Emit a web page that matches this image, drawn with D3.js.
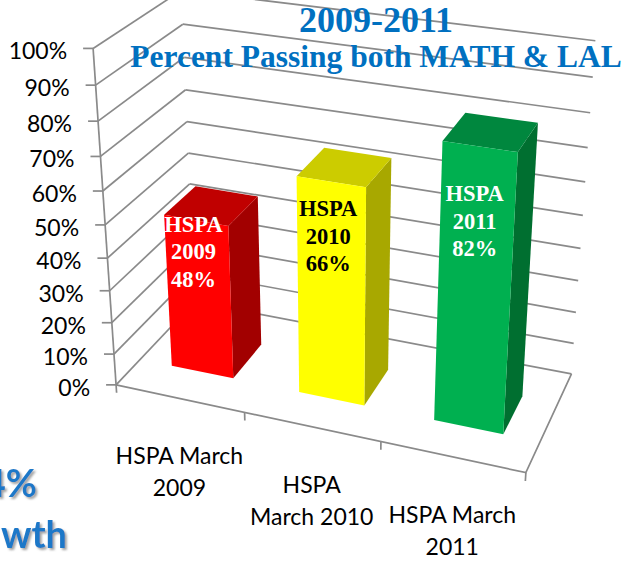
<!DOCTYPE html>
<html>
<head>
<meta charset="utf-8">
<script src="https://cdnjs.cloudflare.com/ajax/libs/d3/7.8.5/d3.min.js"></script>
<style>
  html, body { margin: 0; padding: 0; background: #fff; }
  svg { display: block; }
</style>
</head>
<body>
<div id="chart"></div>
<script>

// ---------------- data ----------------
var categories = ["HSPA March 2009", "HSPA March 2010", "HSPA March 2011"];
var categoryLines = [["HSPA March", "2009"], ["HSPA", "March 2010"], ["HSPA March", "2011"]];
var passRates = [0.48, 0.66, 0.82];
var yTickValues = [0, 0.1, 0.2, 0.3, 0.4, 0.5, 0.6, 0.7, 0.8, 0.9, 1];
var titleLines = ["2009-2011", "Percent Passing both MATH & LAL"];
var sideNote = ["4%", "wth"];

// ---------------- look ----------------
var faceColors = [
  { front: "#ff0000", top: "#c00000", side: "#a20000", text: "#ffffff" },
  { front: "#ffff00", top: "#cccc00", side: "#a8a800", text: "#000000" },
  { front: "#00b050", top: "#00873e", side: "#006f30", text: "#ffffff" }
];
var labelDrop = [0.035, 0.10, 0.15];   // how far below the column top the text box sits
var gridColor = "#8a8a8a";

// camera for the 3d box (world units: width x height x depth)
var box = { width: 118, height: 100, depth: 51 };
var cam = { f: 1577, cx: 338, cy: 174, yaw: 20.8, pitch: 24.5, eye: [-62.2, -59.1, 442] };

function project(x, y, z) {
  var a = cam.yaw * Math.PI / 180, b = cam.pitch * Math.PI / 180;
  var xr = x * Math.cos(a) + z * Math.sin(a);
  var zr = z * Math.cos(a) - x * Math.sin(a);
  var yc = y * Math.cos(b) + zr * Math.sin(b);
  var zc = zr * Math.cos(b) - y * Math.sin(b);
  var px = xr + cam.eye[0], py = yc + cam.eye[1], pz = zc + cam.eye[2];
  return [cam.cx + cam.f * px / pz, cam.cy - cam.f * py / pz];
}

// ---------------- scales ----------------
var xScale = d3.scaleBand().domain(categories).range([0, box.width]).paddingInner(0.51).paddingOuter(0.255);
var yScale = d3.scaleLinear().domain([0, 1]).range([0, box.height]);
var zScale = d3.scaleLinear().domain([0, 1]).range([0, box.depth]);
var barZ = [zScale(0.29), zScale(0.68)];
var pct = d3.format(".0%");

var svg = d3.select("#chart").append("svg").attr("width", 625).attr("height", 563);
var line = d3.line();

// soft shadow used by the cut off note
var shadow = svg.append("defs").append("filter").attr("id", "noteShadow")
  .attr("x", "-20%").attr("y", "-20%").attr("width", "150%").attr("height", "150%");
shadow.append("feDropShadow").attr("dx", 2).attr("dy", 2).attr("stdDeviation", 0.8)
  .attr("flood-color", "#9a9a9a").attr("flood-opacity", 0.9);

function poly(pts) {
  return "M" + pts.map(function (p) { return project(p[0], p[1], p[2]).join(","); }).join("L") + "Z";
}

// ---------------- walls ----------------
var grid = svg.append("g").attr("fill", "none").attr("stroke", gridColor).attr("stroke-width", 1.7);

grid.selectAll(".side").data(yTickValues).join("path").attr("class", "side")
  .attr("d", function (d) { return line([project(0, yScale(d), 0), project(0, yScale(d), box.depth)]); });

grid.selectAll(".back").data(yTickValues).join("path").attr("class", "back")
  .attr("d", function (d) { return line([project(0, yScale(d), box.depth), project(box.width, yScale(d), box.depth)]); });

// floor front and right edge
grid.append("path").attr("d", line([project(0, 0, 0), project(box.width, 0, 0), project(box.width, 0, box.depth)]));

// value axis
grid.append("path").attr("d", line([project(0, 0, 0), project(0, yScale(1), 0)]));
grid.selectAll(".ytick").data(yTickValues).join("path").attr("class", "ytick")
  .attr("d", function (d) {
    var p = project(0, yScale(d), 0);
    return line([[p[0] - 10, p[1]], p]);
  });

// category ticks on the floor edge
var edges = d3.range(categories.length + 1).map(function (i) { return i * xScale.step(); });
grid.selectAll(".xtick").data(edges).join("path").attr("class", "xtick")
  .attr("d", function (d) { return line([project(d, 0, 0), project(d, -2.6, 0)]); });

// ---------------- columns ----------------
var bars = svg.selectAll(".bar").data(categories).join("g").attr("class", "bar");

bars.each(function (c, i) {
  var g = d3.select(this);
  var x0 = xScale(c), x1 = x0 + xScale.bandwidth();
  var h = yScale(passRates[i]);
  var z0 = barZ[0], z1 = barZ[1];
  g.append("path").attr("fill", faceColors[i].side)
    .attr("d", poly([[x1, 0, z0], [x1, 0, z1], [x1, h, z1], [x1, h, z0]]));
  g.append("path").attr("fill", faceColors[i].top)
    .attr("d", poly([[x0, h, z0], [x1, h, z0], [x1, h, z1], [x0, h, z1]]));
  g.append("path").attr("fill", faceColors[i].front)
    .attr("d", poly([[x0, 0, z0], [x1, 0, z0], [x1, h, z0], [x0, h, z0]]));

  // text box on the column
  var a = project(x0 + xScale.bandwidth() / 2, yScale(passRates[i] - labelDrop[i]), z0);
  var txt = g.append("text")
    .attr("text-anchor", "middle")
    .attr("font-family", "'Liberation Serif', 'Times New Roman', serif")
    .attr("font-weight", "bold")
    .attr("font-size", 22.5)
    .attr("fill", faceColors[i].text);
  ["HSPA", c.slice(-4), pct(passRates[i])].forEach(function (s, k) {
    txt.append("tspan").attr("x", a[0] - 3).attr("y", a[1] + k * 27.5).text(s);
  });
});

// ---------------- axis labels ----------------
svg.append("g").selectAll("text").data(yTickValues).join("text")
  .attr("font-family", "Lato, 'Open Sans', sans-serif")
  .attr("font-size", 23)
  .attr("fill", "#000")
  .attr("text-anchor", "end")
  .attr("x", function (d) { return project(0, yScale(d), 0)[0] - 26; })
  .attr("y", function (d) { return project(0, yScale(d), 0)[1] + 11; })
  .text(function (d) { return pct(d); });

var catText = svg.append("g").selectAll("text").data(categories).join("text")
  .attr("font-family", "Lato, 'Open Sans', sans-serif")
  .attr("font-size", 23)
  .attr("fill", "#000")
  .attr("text-anchor", "middle");

catText.each(function (c, i) {
  var p = project(xScale(c) + xScale.bandwidth() / 2, 0, 0);
  d3.select(this).selectAll("tspan").data(categoryLines[i]).join("tspan")
    .attr("x", p[0])
    .attr("y", function (d, k) { return p[1] + 66 + k * 32; })
    .text(function (d) { return d; });
});

// ---------------- title ----------------
var title = svg.append("text")
  .attr("text-anchor", "middle")
  .attr("font-family", "'Liberation Serif', 'Times New Roman', serif")
  .attr("font-weight", "bold")
  .attr("fill", "#0070c0");
title.append("tspan").attr("x", 376).attr("y", 32).attr("font-size", 36).text(titleLines[0]);
title.append("tspan").attr("x", 376).attr("y", 67).attr("font-size", 31.5).text(titleLines[1]);

// ---------------- cut off note at the left ----------------
var note = svg.append("g")
  .attr("font-family", "Lato, 'Open Sans', sans-serif")
  .attr("font-weight", "bold")
  .attr("font-size", 38)
  .attr("text-anchor", "end")
  .attr("fill", "#1f78c8")
  .attr("filter", "url(#noteShadow)");
[[37, 497], [67, 548]].forEach(function (p, k) {
  note.append("text").attr("x", p[0]).attr("y", p[1]).text(sideNote[k]);
});

</script>
</body>
</html>
